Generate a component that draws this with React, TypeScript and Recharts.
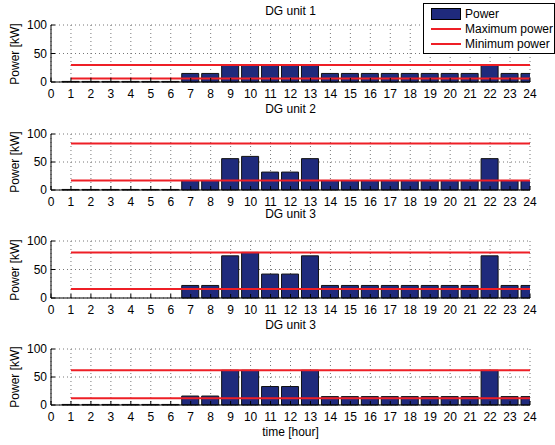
import { Bar, CartesianGrid, ComposedChart, Line, XAxis, YAxis } from "recharts";

const hours = [1, 2, 3, 4, 5, 6, 7, 8, 9, 10, 11, 12, 13, 14, 15, 16, 17, 18, 19, 20, 21, 22, 23, 24];
const xTicks = [0, 1, 2, 3, 4, 5, 6, 7, 8, 9, 10, 11, 12, 13, 14, 15, 16, 17, 18, 19, 20, 21, 22, 23, 24];
const yTicks = [0, 50, 100];

const titles = ["DG unit 1", "DG unit 2", "DG unit 3", "DG unit 3"];
const unit1Power = [1, 1, 1, 1, 1, 1, 15, 15, 30, 30, 30, 30, 30, 15, 15, 15, 15, 15, 15, 15, 15, 30, 15, 15];
const unit2Power = [1, 1, 1, 1, 1, 1, 17, 17, 56, 60, 32, 32, 56, 17, 17, 17, 17, 17, 17, 17, 17, 56, 17, 17];
const unit3Power = [0, 0, 0, 0, 0, 0, 22, 22, 74, 80, 42, 42, 74, 22, 22, 22, 22, 22, 22, 22, 22, 74, 22, 22];
const unit4Power = [1, 1, 1, 1, 1, 1, 16, 16, 62, 62, 33, 33, 62, 15, 15, 15, 15, 15, 15, 15, 15, 62, 15, 15];
const maxPower = [30, 83, 80, 62];
const minPower = [6, 17, 16, 12];

const powers = [unit1Power, unit2Power, unit3Power, unit4Power];

// plot box top/bottom in page pixels, title centre
const layout = [
  { top: 25, bottom: 82, titleY: 11 },
  { top: 134, bottom: 190, titleY: 109 },
  { top: 241, bottom: 298, titleY: 214 },
  { top: 349, bottom: 405, titleY: 325 },
];

const FONT = '"Liberation Sans", Arial, Helvetica, sans-serif';
const RED = "#ee1f26";
const NAVY = "#1f2a7c";
const PAD = 12;

function Unit({ idx }: { idx: number }) {
  const { top, bottom, titleY } = layout[idx];
  const rows = hours.map((h, j) => ({
    hour: h,
    power: powers[idx][j],
    max: maxPower[idx],
    min: minPower[idx],
  }));
  const height = bottom - top + PAD + 22;
  const tick = { fill: "#000", fontSize: 12, fontFamily: FONT };
  return (
    <>
      <div
        style={{
          position: "absolute",
          left: 0,
          width: 581,
          top: titleY - 6,
          height: 12,
          lineHeight: "12px",
          textAlign: "center",
          fontSize: 12,
          fontFamily: FONT,
        }}
      >
        {titles[idx]}
      </div>
      <div
        style={{
          position: "absolute",
          left: 15 - 50,
          width: 100,
          top: (top + bottom) / 2 - 8,
          height: 16,
          lineHeight: "16px",
          textAlign: "center",
          fontSize: 12,
          fontFamily: FONT,
          transform: "rotate(-90deg)",
        }}
      >
        Power [kW]
      </div>
      <div style={{ position: "absolute", left: 0, top: top - PAD }}>
        <ComposedChart width={555} height={height} data={rows} margin={{ top: PAD, right: 25, left: 0, bottom: 0 }}>
          <CartesianGrid stroke="#777" strokeDasharray="1 3" />
          <XAxis
            dataKey="hour"
            type="number"
            domain={[0, 24]}
            ticks={xTicks}
            interval={0}
            allowDataOverflow
            height={22}
            tick={tick}
            tickSize={-4}
            tickMargin={11}
            axisLine={{ stroke: "#000" }}
            tickLine={{ stroke: "#000" }}
          />
          <XAxis
            xAxisId="top"
            orientation="top"
            dataKey="hour"
            type="number"
            domain={[0, 24]}
            ticks={xTicks}
            interval={0}
            height={0}
            tick={false}
            tickSize={-4}
            axisLine={{ stroke: "#000" }}
            tickLine={{ stroke: "#000" }}
          />
          <YAxis
            domain={[0, 100]}
            ticks={yTicks}
            interval={0}
            width={51}
            tick={tick}
            tickSize={-4}
            tickMargin={8}
            axisLine={{ stroke: "#000" }}
            tickLine={{ stroke: "#000" }}
          />
          <YAxis
            yAxisId="right"
            orientation="right"
            domain={[0, 100]}
            ticks={yTicks}
            interval={0}
            width={0}
            tick={false}
            tickSize={-4}
            axisLine={{ stroke: "#000" }}
            tickLine={{ stroke: "#000" }}
          />
          <Bar dataKey="power" barSize={17} fill={NAVY} stroke="#111" strokeWidth={1} isAnimationActive={false} />
          <Line dataKey="max" type="linear" stroke={RED} strokeWidth={2} dot={false} activeDot={false} isAnimationActive={false} />
          <Line dataKey="min" type="linear" stroke={RED} strokeWidth={2} dot={false} activeDot={false} isAnimationActive={false} />
        </ComposedChart>
      </div>
    </>
  );
}

export default function App() {
  return (
    <div style={{ position: "absolute", left: 0, top: 0, width: 555, height: 445, background: "#fff", fontFamily: FONT }}>
      {[0, 1, 2, 3].map((i) => (
        <Unit key={i} idx={i} />
      ))}
      <div
        style={{
          position: "absolute",
          left: 0,
          width: 581,
          top: 424,
          height: 16,
          lineHeight: "16px",
          textAlign: "center",
          fontSize: 12,
        }}
      >
        time [hour]
      </div>
      <div
        style={{
          position: "absolute",
          left: 423,
          top: 3,
          width: 130,
          height: 49,
          border: "1px solid #000",
          background: "#fff",
          fontSize: 12,
        }}
      >
        {["Power", "Maximum power", "Minimum power"].map((label, k) => (
          <div key={label} style={{ position: "absolute", left: 7, top: 2 + k * 15, height: 15, display: "flex", alignItems: "center" }}>
            {k === 0 ? (
              <div style={{ width: 28, height: 10, background: NAVY, border: "1px solid #000" }} />
            ) : (
              <div style={{ width: 30, height: 2, background: RED }} />
            )}
            <span style={{ marginLeft: 4, whiteSpace: "nowrap" }}>{label}</span>
          </div>
        ))}
      </div>
    </div>
  );
}
